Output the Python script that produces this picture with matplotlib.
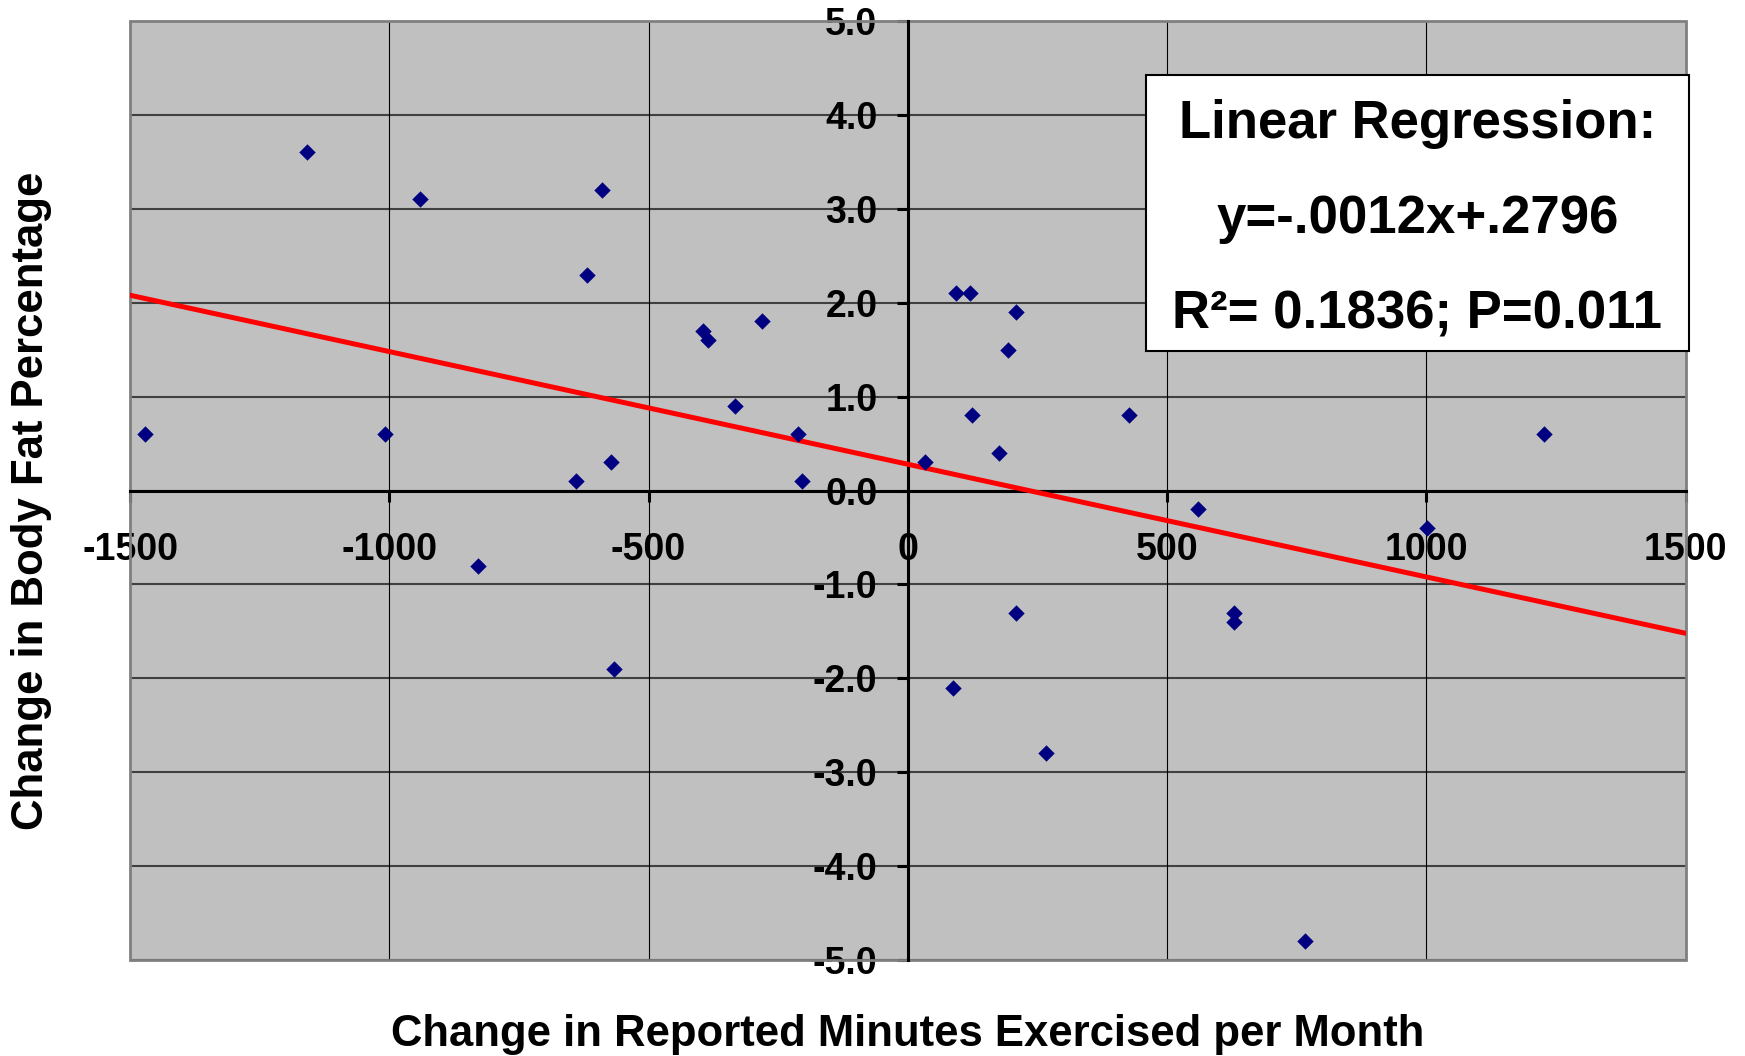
# Imports
import matplotlib
matplotlib.use('Agg')
import matplotlib.pyplot as plt
from matplotlib.patches import Rectangle
import numpy as np

# Data
minutes_change = [-1472, -1159, -940, -1009, -828, -590, -618, -640, -573, -567,
                  -395, -386, -281, -333, -212, -204, 34, 92, 120, 208,
                  193, 124, 176, 427, 560, 1002, 1227, 208, 88, 266,
                  629, 629, 766]
fat_change = [0.6, 3.6, 3.1, 0.6, -0.8, 3.2, 2.3, 0.1, 0.3, -1.9,
              1.7, 1.6, 1.8, 0.9, 0.6, 0.1, 0.3, 2.1, 2.1, 1.9,
              1.5, 0.8, 0.4, 0.8, -0.2, -0.4, 0.6, -1.3, -2.1, -2.8,
              -1.3, -1.4, -4.8]

# Regression line from the box
slope = -0.0012
intercept = 0.2796

x_ticks = [-1500, -1000, -500, 0, 500, 1000, 1500]
y_ticks = [-5.0, -4.0, -3.0, -2.0, -1.0, 0.0, 1.0, 2.0, 3.0, 4.0, 5.0]

box_lines = ['Linear Regression:', 'y=-.0012x+.2796', 'R\u00b2= 0.1836; P=0.011']
box_baselines = [0.8755, 0.7738, 0.6721]

font = ['Liberation Sans', 'DejaVu Sans']


def draw_chart(ax):
    ax.set_facecolor('#C0C0C0')
    ax.set_xlim(-1500, 1500)
    ax.set_ylim(-5, 5)

    # Grid
    for y in y_ticks:
        ax.axhline(y, color='#404040', lw=1.5, zorder=1)
    for x in x_ticks:
        ax.axvline(x, color='#000000', lw=0.8, zorder=1)

    # Axes crossing at zero, Excel style
    for side in ['top', 'right']:
        ax.spines[side].set_visible(False)
    for side in ['left', 'bottom']:
        ax.spines[side].set_position(('data', 0))
        ax.spines[side].set_linewidth(2.2)
        ax.spines[side].set_zorder(3)

    ax.set_xticks(x_ticks)
    ax.set_xticklabels([str(v) for v in x_ticks])
    ax.set_yticks(y_ticks)
    ax.set_yticklabels(['{:.1f}'.format(v) for v in y_ticks])
    ax.tick_params(axis='x', direction='out', length=8, width=2.2, pad=22)
    ax.tick_params(axis='y', direction='out', length=8, width=2.2, pad=14)
    for lab in ax.get_xticklabels() + ax.get_yticklabels():
        lab.set_fontfamily(font)
        lab.set_fontweight('bold')
        lab.set_fontsize(27)

    # Plot area border
    ax.add_patch(Rectangle((0, 0), 1, 1, transform=ax.transAxes, fill=False,
                           edgecolor='#808080', lw=2, zorder=2, clip_on=False))

    # Points and regression line
    ax.scatter(minutes_change, fat_change, marker='D', s=70, color='#000080',
               linewidths=0, zorder=5)
    xs = np.array([-1500, 1500])
    ax.plot(xs, slope * xs + intercept, color='#FF0000', lw=3.6, zorder=4)

    # Regression box
    ax.add_patch(Rectangle((0.653, 0.649), 0.349, 0.2935, transform=ax.transAxes,
                           facecolor='white', edgecolor='black', lw=1.5, zorder=6,
                           clip_on=False))
    for line, yb in zip(box_lines, box_baselines):
        ax.text(0.8275, yb, line, transform=ax.transAxes,
                ha='center', va='baseline', fontsize=38, fontweight='bold',
                family=font, zorder=7)


def main():
    fig = plt.figure(figsize=(17.45, 10.56), dpi=100)
    ax = fig.add_axes([0.0745, 0.0909, 0.8915, 0.8892])
    draw_chart(ax)

    fig.text(0.520, 0.0201, 'Change in Reported Minutes Exercised per Month',
             ha='center', va='center', fontsize=31.4, fontweight='bold', family=font)
    fig.text(0.018, 0.5256, 'Change in Body Fat Percentage', rotation=90,
             ha='center', va='center', fontsize=31.5, fontweight='bold', family=font)

    fig.savefig('out.png', dpi=100)


if __name__ == '__main__':
    main()
